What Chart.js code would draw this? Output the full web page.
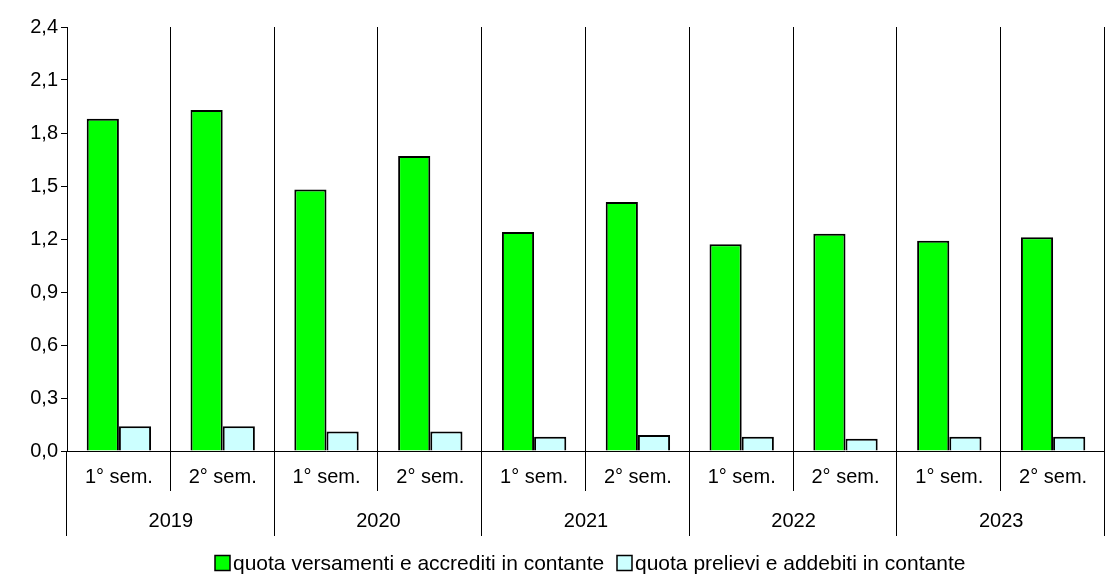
<!DOCTYPE html>
<html><head><meta charset="utf-8">
<script src="https://cdn.jsdelivr.net/npm/chart.js@4"></script>
<style>html,body{margin:0;padding:0;background:#fff}#w{width:1107px;height:575px}</style>
</head><body><div id="w"><canvas id="c"></canvas></div>
<script>
const semesters=["1° sem.","2° sem.","1° sem.","2° sem.","1° sem.","2° sem.","1° sem.","2° sem.","1° sem.","2° sem."];
const years=["2019","2020","2021","2022","2023"];
const versamenti=[1.88,1.93,1.48,1.67,1.24,1.41,1.17,1.23,1.19,1.21];
const prelievi=[0.14,0.14,0.11,0.11,0.08,0.09,0.08,0.07,0.08,0.08];
const F='"Liberation Sans", Arial, sans-serif';
const axisPlugin={id:'ax',afterDraw(ch){
 const c=ch.ctx,a=ch.chartArea,n=semesters.length,w=(a.right-a.left)/n;
 c.save();c.strokeStyle='#000';c.lineWidth=1;c.fillStyle='#000';c.font='20px '+F;c.textAlign='center';c.textBaseline='middle';
 for(let i=1;i<=n;i++){const xx=Math.round(a.left+i*w)-0.5;c.beginPath();c.moveTo(xx,a.top);c.lineTo(xx,i%2==0?a.bottom+85:a.bottom+40);c.stroke();}
 c.beginPath();c.moveTo(a.left-0.5,a.bottom);c.lineTo(a.left-0.5,a.bottom+85);c.stroke();
 c.beginPath();c.moveTo(a.left,a.bottom+0.5);c.lineTo(a.right,a.bottom+0.5);c.stroke();
 semesters.forEach((s,i)=>c.fillText(s,a.left+(i+0.5)*w,a.bottom+26));
 years.forEach((y,i)=>c.fillText(y,a.left+(2*i+1)*w,a.bottom+70));
 const ds=ch.data.datasets,box=15,sp=3,starts=[215,617];
 c.textAlign='left';c.font='21px '+F;const yc=563;
 ds.forEach((d,i)=>{const x0=starts[i];c.fillStyle=d.backgroundColor;c.fillRect(x0,yc-box/2,box,box);c.lineWidth=1.5;c.strokeRect(x0,yc-box/2,box,box);
  c.fillStyle='#000';c.fillText(d.label,x0+box+sp,yc+1);});
 c.restore();}};
new Chart(document.getElementById('c'),{type:'bar',
 data:{labels:semesters,datasets:[
  {label:'quota versamenti e accrediti in contante',data:versamenti,backgroundColor:'#00ff00',borderColor:'#000',borderWidth:2,borderSkipped:'bottom'},
  {label:'quota prelievi e addebiti in contante',data:prelievi,backgroundColor:'#ccffff',borderColor:'#000',borderWidth:2,borderSkipped:'bottom'}]},
 options:{responsive:true,maintainAspectRatio:false,animation:false,
  categoryPercentage:0.62,barPercentage:1,
  layout:{padding:{top:27,right:2,bottom:39,left:0}},
  plugins:{tooltip:{enabled:false},legend:{display:false}},
  scales:{
   x:{ticks:{display:false},grid:{display:false},border:{display:false},afterFit(s){s.height=85;}},
   y:{min:0,max:2.4,ticks:{stepSize:0.3,color:'#000',font:{size:20,family:F},callback:v=>v.toFixed(1).replace('.',',')},
      grid:{drawOnChartArea:false,tickLength:6,color:'#000'},border:{color:'#000'},afterFit(s){s.width=67;}}}},
 plugins:[axisPlugin]});
</script></body></html>
